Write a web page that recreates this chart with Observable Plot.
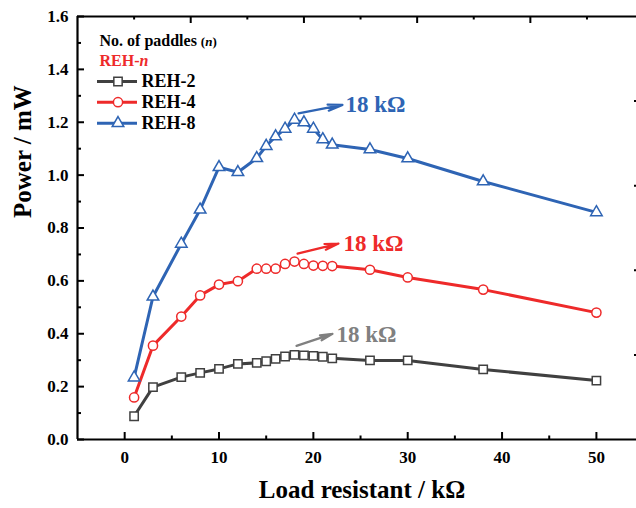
<!DOCTYPE html>
<html>
<head>
<meta charset="utf-8">
<script src="https://cdn.jsdelivr.net/npm/d3@7"></script>
<script src="https://cdn.jsdelivr.net/npm/@observablehq/plot@0.6"></script>
<style>
  html, body { margin: 0; padding: 0; background: #fff; }
  #chart { width: 636px; height: 508px; overflow: hidden; }
</style>
</head>
<body>
<div id="chart"></div>
<script>
// ---- data ----
const loadResistance = [1, 3, 6, 8, 10, 12, 14, 15, 16, 17, 18, 19, 20, 21, 22, 26, 30, 38, 50];
const reh2 = [0.088, 0.198, 0.236, 0.252, 0.267, 0.286, 0.290, 0.296, 0.305, 0.314, 0.320, 0.318, 0.316, 0.313, 0.307, 0.299, 0.299, 0.265, 0.223];
const reh4 = [0.159, 0.355, 0.465, 0.545, 0.586, 0.599, 0.646, 0.646, 0.646, 0.664, 0.673, 0.664, 0.658, 0.657, 0.656, 0.642, 0.613, 0.567, 0.480];
const reh8 = [0.234, 0.540, 0.740, 0.869, 1.030, 1.011, 1.064, 1.110, 1.146, 1.175, 1.209, 1.199, 1.175, 1.135, 1.115, 1.097, 1.063, 0.976, 0.859];
const seriesNames = ["REH-2", "REH-4", "REH-8"];
const xTicks = [0, 10, 20, 30, 40, 50];
const xMinorTicks = [5, 15, 25, 35, 45];
const yTicks = [0, 0.2, 0.4, 0.6, 0.8, 1.0, 1.2, 1.4, 1.6];
const yMinorTicks = [0.1, 0.3, 0.5, 0.7, 0.9, 1.1, 1.3, 1.5];
const topMajorTicks = [7, 19, 31, 43];
const topMinorTicks = [1, 13, 25, 37, 49];
const rightTicks = [0.32, 0.64, 0.96, 1.28];
const peakLabel = "18 kΩ";
const peakX = 18;

// ---- layout ----
const W = 636, H = 508;
const mL = 77, mR = 0, mT = 16, mB = 69;
const xDom = [-5, 54.25], yDom = [0, 1.6];
const kx = (xDom[1] - xDom[0]) / (W - mL - mR);
const ky = (yDom[1] - yDom[0]) / (H - mT - mB);
const px2x = p => xDom[0] + (p - mL) * kx;
const px2y = p => yDom[0] + (H - mB - p) * ky;

const colors = { "REH-2": "#404040", "REH-4": "#ee2a2a", "REH-8": "#2e64b4" };
const symbols = { "REH-2": "square", "REH-4": "circle", "REH-8": "triangle" };
const radii = { "REH-2": 4.7, "REH-4": 4.6, "REH-8": 4.3 };
const annotColors = { "REH-2": "#808080", "REH-4": "#ee2a2a", "REH-8": "#2e64b4" };
// arrow start/end + text offsets in px relative to the peak point
const annotOffsets = {
  "REH-8": { sx: 4, sy: -6.5, ex: 48, ey: -15, tx: 51, ty: -15 },
  "REH-4": { sx: 3, sy: -8, ex: 44, ey: -18, tx: 49, ty: -18 },
  "REH-2": { sx: 2, sy: -9, ex: 38, ey: -21, tx: 42, ty: -20 }
};

const valuesBy = { "REH-2": reh2, "REH-4": reh4, "REH-8": reh8 };
const rows = seriesNames.flatMap(s => loadResistance.map((x, i) => ({ series: s, x, y: valuesBy[s][i] })));

const font = "Liberation Serif, Times New Roman, serif";

const marks = [];
// frame lines
marks.push(Plot.ruleY([yDom[0]], { stroke: "#000", strokeWidth: 2.2 }));
marks.push(Plot.ruleY([yDom[1]], { stroke: "#000", strokeWidth: 2.2 }));
marks.push(Plot.ruleX([xDom[0]], { stroke: "#000", strokeWidth: 2.2 }));
// bottom ticks (inward)
marks.push(Plot.ruleX(xTicks, { x: d => d, y1: 0, y2: 7 * ky, stroke: "#000", strokeWidth: 2 }));
marks.push(Plot.ruleX(xMinorTicks, { x: d => d, y1: 0, y2: 3.5 * ky, stroke: "#000", strokeWidth: 2 }));
// top ticks
marks.push(Plot.ruleX(topMajorTicks, { x: d => d, y1: yDom[1], y2: yDom[1] - 7 * ky, stroke: "#000", strokeWidth: 2 }));
marks.push(Plot.ruleX(topMinorTicks, { x: d => d, y1: yDom[1], y2: yDom[1] - 3.5 * ky, stroke: "#000", strokeWidth: 2 }));
// left ticks
marks.push(Plot.ruleY(yTicks, { y: d => d, x1: xDom[0], x2: xDom[0] + 7 * kx, stroke: "#000", strokeWidth: 2 }));
marks.push(Plot.ruleY(yMinorTicks, { y: d => d, x1: xDom[0], x2: xDom[0] + 4 * kx, stroke: "#000", strokeWidth: 2 }));
// right ticks (only tips visible)
marks.push(Plot.ruleY(rightTicks, { y: d => d, x1: xDom[1] - 2 * kx, x2: xDom[1], stroke: "#000", strokeWidth: 2 }));

// tick labels
marks.push(Plot.axisX(xTicks, { tickSize: 0, tickPadding: 11, fontSize: 17, fontWeight: "bold", fontFamily: font, label: null, fill: "#000" }));
marks.push(Plot.axisY(yTicks, { tickSize: 0, tickPadding: 9, fontSize: 17, fontWeight: "bold", fontFamily: font, label: null, tickFormat: d3.format(".1f"), fill: "#000" }));

// axis titles
marks.push(Plot.text(["Load resistant / kΩ"], { frameAnchor: "bottom", dx: 5, dy: 58, fontSize: 25, fontWeight: "bold", fontFamily: font, fill: "#000" }));
marks.push(Plot.text(["Power / mW"], { frameAnchor: "left", rotate: -90, dx: -55, dy: -10, fontSize: 25, fontWeight: "bold", fontFamily: font, fill: "#000" }));

// lines and markers
for (const s of seriesNames) {
  const d = rows.filter(r => r.series === s);
  marks.push(Plot.line(d, { x: "x", y: "y", stroke: colors[s], strokeWidth: 3 }));
}
for (const s of seriesNames) {
  const d = rows.filter(r => r.series === s);
  marks.push(Plot.dot(d, { x: "x", y: "y", symbol: symbols[s], r: radii[s], fill: "#fff", stroke: colors[s], strokeWidth: 1.5 }));
}

// annotations
for (const s of seriesNames) {
  const peakY = valuesBy[s][loadResistance.indexOf(peakX)];
  const o = annotOffsets[s];
  const pxPeak = (peakX - xDom[0]) / kx + mL;
  const pyPeak = H - mB - (peakY - yDom[0]) / ky;
  marks.push(Plot.arrow([0], {
    x1: () => px2x(pxPeak + o.sx), y1: () => px2y(pyPeak + o.sy),
    x2: () => px2x(pxPeak + o.ex), y2: () => px2y(pyPeak + o.ey),
    stroke: annotColors[s], strokeWidth: 2.2, headLength: 12, headAngle: 24
  }));
  marks.push(Plot.text([peakLabel], {
    x: () => px2x(pxPeak + o.tx), y: () => px2y(pyPeak + o.ty),
    textAnchor: "start", fontSize: 23, fontWeight: "bold", fontFamily: font, fill: annotColors[s]
  }));
}

// legend
const legendRows = [81, 101.7, 122.7];
marks.push(Plot.text(["No. of paddles (n)"], { x: () => px2x(99), y: () => px2y(40), textAnchor: "start", fontSize: 16, fontWeight: "bold", fontFamily: font, fill: "#000" }));
marks.push(Plot.text(["REH-n"], { x: () => px2x(99), y: () => px2y(60), textAnchor: "start", fontSize: 16, fontWeight: "bold", fontFamily: font, fill: "#ee2a2a" }));
seriesNames.forEach((s, i) => {
  const yy = px2y(legendRows[i]);
  marks.push(Plot.ruleY([yy], { x1: px2x(97), x2: px2x(137), stroke: colors[s], strokeWidth: 3 }));
  marks.push(Plot.dot([0], { x: () => px2x(117.5), y: () => yy, symbol: symbols[s], r: radii[s], fill: "#fff", stroke: colors[s], strokeWidth: 1.5 }));
  marks.push(Plot.text([s], { x: () => px2x(141), y: () => yy, textAnchor: "start", fontSize: 18, fontWeight: "bold", fontFamily: font, fill: "#000" }));
});

const chart = Plot.plot({
  width: W, height: H,
  marginLeft: mL, marginRight: mR, marginTop: mT, marginBottom: mB,
  x: { domain: xDom, axis: null },
  y: { domain: yDom, axis: null },
  style: { background: "#fff", overflow: "visible" },
  marks
});

// rich text (italic n)
d3.select(chart).selectAll("text").each(function () {
  const t = this.textContent;
  if (t === "No. of paddles (n)") {
    this.innerHTML = 'No. of paddles <tspan font-size="13">(<tspan font-style="italic">n</tspan>)</tspan>';
  } else if (t === "REH-n") {
    this.innerHTML = 'REH-<tspan font-style="italic">n</tspan>';
  }
});

document.getElementById("chart").appendChild(chart);
</script>
</body>
</html>
